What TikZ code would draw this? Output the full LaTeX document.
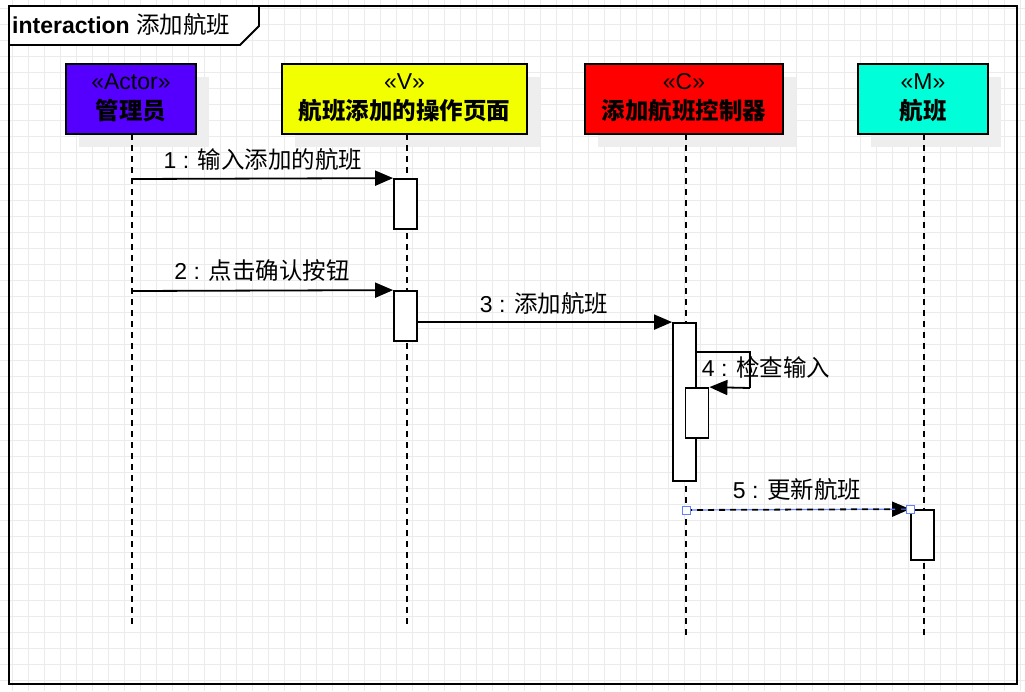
\documentclass[tikz,border=0pt]{standalone}
\usepackage{fontspec}
\setmainfont{Liberation Sans}
\newfontfamily\cjk{Noto Sans CJK SC}
\usetikzlibrary{arrows.meta,calc}
\definecolor{gridc}{HTML}{EBEBEB}
\definecolor{shadowc}{HTML}{EEEEEE}
\definecolor{actorc}{HTML}{5500FF}
\definecolor{viewc}{HTML}{F2FF00}
\definecolor{ctrlc}{HTML}{FF0000}
\definecolor{modelc}{HTML}{00FFD9}
\definecolor{selc}{HTML}{6482FF}
\newcommand{\lbl}{\fontsize{23}{27}\selectfont}
\newcommand{\cj}[1]{{\cjk\fontsize{23.5}{27}\selectfont #1}}
\newcommand{\lowstrut}{\rule[-5pt]{0pt}{1pt}}
\tikzset{
  head/.style={draw=black, line width=1.8pt, minimum height=70pt, inner sep=0pt, align=center, font=\lbl},
  shad/.style={fill=shadowc, draw=none},
  life/.style={black, line width=1.8pt, dash pattern=on 6pt off 5pt},
  actbox/.style={draw=black, fill=white, line width=1.8pt, minimum width=23pt, inner sep=0pt},
  msg/.style={black, line width=1.8pt, -{Triangle[length=18pt,width=15pt]}},
  mlabel/.style={font=\lbl, inner sep=0pt},
  handle/.style={draw=selc, line width=0.8pt, fill=white, minimum size=8pt, inner sep=0pt},
}
\begin{document}
\begin{tikzpicture}[x=1pt,y=-1pt]
\useasboundingbox (0,0) rectangle (1025,691);
\fill[white] (0,0) rectangle (1025,691);
% grid
\foreach \gx in {12,28,...,1020} \draw[gridc, line width=0.8pt] (\gx,0) -- (\gx,691);
\foreach \gy in {8,24,...,690} \draw[gridc, line width=0.8pt] (0,\gy) -- (1025,\gy);
% frame
\draw[black, line width=1.8pt] (9,6) rectangle (1017,684);
\draw[black, line width=1.8pt, fill=white] (9,6) -- (259,6) -- (259,26) -- (240,45) -- (9,45) -- cycle;
\node[anchor=west, font=\lbl, inner sep=0pt] (title) at (12,25) {\textbf{interaction} \cj{添加航班}};
% shadows
\fill[shad] (79,77) rectangle (209,147);
\fill[shad] (295,77) rectangle (540,147);
\fill[shad] (598,77) rectangle (796,147);
\fill[shad] (871,77) rectangle (1001,147);
% lifelines
\coordinate (aEnd) at (132,626);
\coordinate (vEnd) at (407,626);
\coordinate (cEnd) at (686,638);
\coordinate (mEnd) at (924,638);
\node[head, fill=actorc, minimum width=130pt] (actor) at (131,99) {«Actor»\\[3pt]\cj{\bfseries 管理员}\lowstrut};
\node[head, fill=viewc, minimum width=245pt] (view) at (404.5,99) {«V»\\[3pt]\cj{\bfseries 航班添加的操作页面}\lowstrut};
\node[head, fill=ctrlc, minimum width=198pt] (ctrl) at (684,99) {«C»\\[3pt]\cj{\bfseries 添加航班控制器}\lowstrut};
\node[head, fill=modelc, minimum width=130pt] (model) at (923,99) {«M»\\[3pt]\cj{\bfseries 航班}\lowstrut};
\draw[life] (132,134) -- (aEnd);
\draw[life] (407,134) -- (vEnd);
\draw[life] (686,134) -- (cEnd);
\draw[life] (924,134) -- (mEnd);
% activations
\node[actbox, minimum height=50pt] (v1) at (405.5,204) {};
\node[actbox, minimum height=50pt] (v2) at (405.5,316) {};
\node[actbox, minimum height=158pt] (c1) at (684.5,402) {};
\node[actbox, minimum height=50pt] (c2) at (697,413) {};
\node[actbox, minimum height=50pt] (m1) at (922.5,535) {};
% messages
\coordinate (s1) at (132,179);
\coordinate (s2) at (132,291);
\draw[msg] (s1) -- (v1.north west);
\node[mlabel] (l1) at (263,160) {1 : \cj{输入添加的航班}};
\draw[msg] (s2) -- (v2.north west);
\node[mlabel] (l2) at (262,271) {2 : \cj{点击确认按钮}};
\draw[msg] (v2.east |- c1.north west) -- (c1.north west);
\node[mlabel] (l3) at (544,304) {3 : \cj{添加航班}};
\coordinate (self1) at (c1.east |- 0,352);
\coordinate (self2) at (750,352);
\coordinate (self3) at (750,388);
\draw[black, line width=1.8pt] (self1) -- (self2) -- (self3);
\draw[msg] (self3) -- (c2.north east);
\node[mlabel] (l4) at (766,367) {4 : \cj{检查输入}};
\coordinate (s5) at (686,510);
\draw[msg, dash pattern=on 6pt off 5pt] (s5) -- (m1.north west);
\draw[selc, line width=1.2pt, dash pattern=on 5pt off 6pt, dash phase=-6pt] (s5) -- (m1.north west);
\node[handle] (h1) at (s5) {};
\node[handle] (h2) at (m1.north west) {};
\node[mlabel] (l5) at (797,490) {5 : \cj{更新航班}};
\end{tikzpicture}
\end{document}
